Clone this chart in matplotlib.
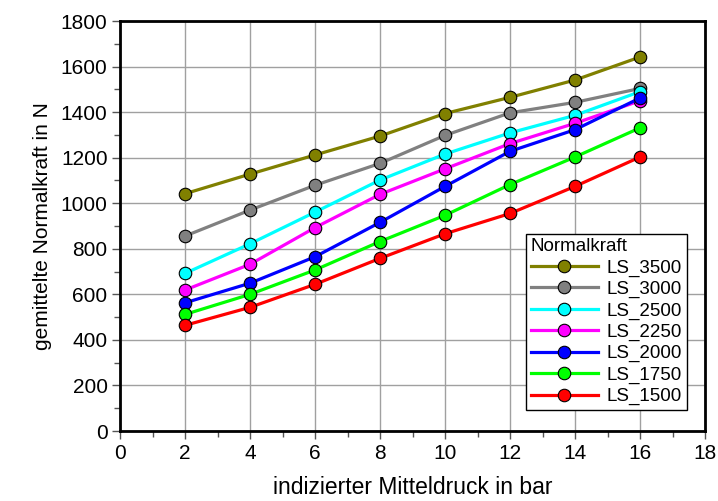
import numpy as np
import matplotlib
matplotlib.use("Agg")
import matplotlib.pyplot as plt

# ======================== data
druck = [2, 4, 6, 8, 10, 12, 14, 16]

ls_3500 = [1042, 1128, 1212, 1295, 1394, 1465, 1541, 1642]
ls_3000 = [856, 970, 1079, 1175, 1298, 1397, 1443, 1504]
ls_2500 = [692, 822, 961, 1102, 1216, 1309, 1386, 1490]
ls_2250 = [619, 732, 893, 1039, 1151, 1262, 1351, 1450]
ls_2000 = [563, 649, 765, 916, 1074, 1228, 1323, 1462]
ls_1750 = [512, 600, 707, 832, 947, 1082, 1203, 1331]
ls_1500 = [464, 543, 644, 758, 866, 955, 1074, 1203]

series = [ls_3500, ls_3000, ls_2500, ls_2250, ls_2000, ls_1750, ls_1500]
labels = ["LS_3500", "LS_3000", "LS_2500", "LS_2250", "LS_2000", "LS_1750", "LS_1500"]
colors = ["#808000", "#808080", "#00FFFF", "#FF00FF", "#0000FF", "#00FF00", "#FF0000"]

plt.rcParams["font.family"] = ["Liberation Sans", "DejaVu Sans"]

fig = plt.figure(figsize=(7.18, 5.01), dpi=100)
ax = fig.add_axes([0.1672, 0.1397, 0.8147, 0.8183])

for vals, lab, col in zip(series, labels, colors):
    ax.plot(druck, vals, color=col, linewidth=2.3, marker="o", markersize=9,
            markerfacecolor=col, markeredgecolor="black", markeredgewidth=0.8, label=lab)

ax.set_xlim(0, 18)
ax.set_ylim(0, 1800)
ax.set_xticks(np.arange(0, 19, 2))
ax.set_xticks(np.arange(0, 19, 1), minor=True)
ax.set_yticks(np.arange(0, 1801, 200))
ax.set_yticks(np.arange(0, 1801, 100), minor=True)
ax.grid(True, which="major", color="#a0a0a0", linewidth=1.0)
ax.set_axisbelow(True)

ax.tick_params(axis="both", which="major", direction="out", length=6, width=1,
               labelsize=15, color="#555555", pad=3)
ax.tick_params(axis="both", which="minor", direction="out", length=4, width=1, color="#555555")
for s in ax.spines.values():
    s.set_linewidth(2)
    s.set_color("black")

ax.set_xlabel("indizierter Mitteldruck in bar", fontsize=16.5, labelpad=10)
ax.set_ylabel("gemittelte Normalkraft in N", fontsize=15, labelpad=6)

leg = ax.legend(title="Normalkraft", loc="lower right", bbox_to_anchor=(0.975, 0.042),
                fontsize=13.5, title_fontsize=13.5, frameon=True, fancybox=False,
                edgecolor="black", framealpha=1, handlelength=3.6, borderpad=0.25,
                labelspacing=0.22, handletextpad=0.45, borderaxespad=0.2)
leg._legend_box.align = "left"
leg.get_frame().set_linewidth(1)

plt.savefig("out.png", dpi=100)
